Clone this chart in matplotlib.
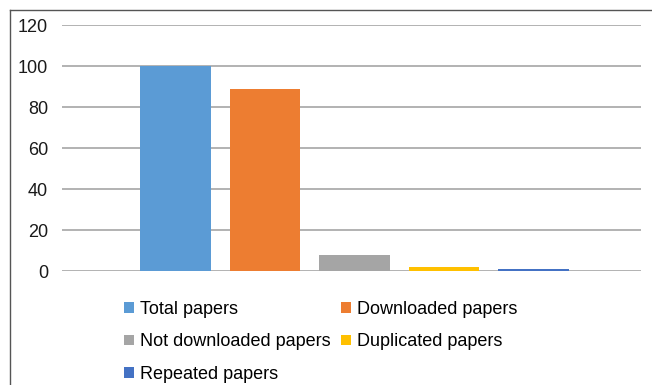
import matplotlib.pyplot as plt
from matplotlib.patches import Patch
from matplotlib.lines import Line2D

plt.rcParams['font.family'] = ['Liberation Sans', 'DejaVu Sans']

# datos
series = ['Total papers', 'Downloaded papers', 'Not downloaded papers',
          'Duplicated papers', 'Repeated papers']
values = [100, 89, 8, 2, 1]
colors = ['#5B9BD5', '#ED7D31', '#A5A5A5', '#FFC000', '#4472C4']

fig = plt.figure(figsize=(6.52, 3.85), dpi=100)
ax = fig.add_axes([0.095, 0.296, 0.888, 0.639])

x = list(range(len(values)))
ax.bar(x, values, width=0.79, color=colors, zorder=3)

ax.set_ylim(0, 120)
ax.set_yticks(range(0, 121, 20))
ax.set_xlim(-1.27, 5.2)
ax.set_xticks([])
ax.grid(axis='y', color='#A6A6A6', linewidth=1.2, zorder=0)
for s in ax.spines.values():
    s.set_visible(False)
ax.tick_params(axis='y', length=0, labelsize=13, pad=10, colors='#1a1a1a')

# leyenda (orden por columnas)
order = [0, 2, 4, 1, 3]
handles = [Patch(facecolor=colors[i], edgecolor='none') for i in order]
labels = [series[i] for i in order]
fig.legend(handles, labels, ncol=2, loc='upper left', bbox_to_anchor=(0.19, 0.218),
           frameon=False, fontsize=13, handlelength=0.55, handleheight=0.55,
           handletextpad=0.33, columnspacing=0.6, labelspacing=0.85,
           borderaxespad=0, borderpad=0)

# borde exterior
fig.add_artist(Line2D([10/652, 10/652], [0, 1 - 10/385], color='#555555', lw=1))
fig.add_artist(Line2D([10/652, 1], [1 - 10/385, 1 - 10/385], color='#555555', lw=1))

fig.savefig('out.png', dpi=100)
